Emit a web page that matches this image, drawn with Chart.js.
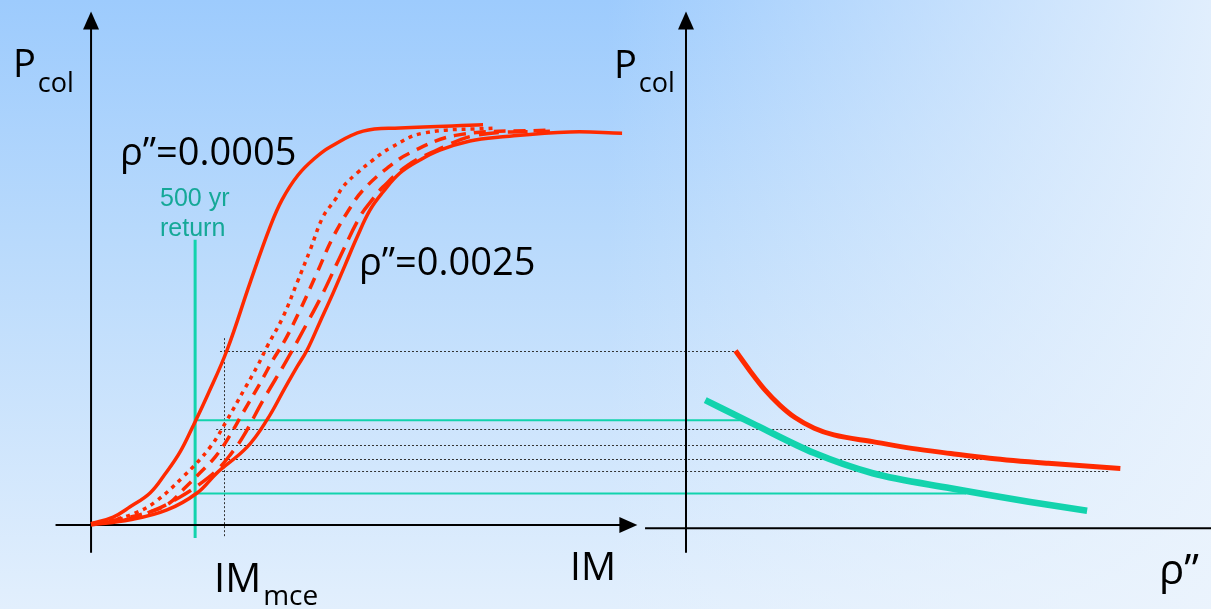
<!DOCTYPE html>
<html>
<head>
<meta charset="utf-8">
<script src="https://cdn.jsdelivr.net/npm/chart.js@4.4.1/dist/chart.umd.min.js"></script>
<style>
html, body { margin: 0; padding: 0; overflow: hidden; }
body {
    width: 1211px; height: 609px;
    background:
        linear-gradient(to right, rgba(236,244,253,0) 50%, rgba(236,244,253,0.85) 100%),
        linear-gradient(to bottom, #9dcbfd 0%, #b9dafc 40%, #e2effd 100%);
}
#wrap { position: relative; width: 1211px; height: 609px; }
</style>
</head>
<body>
<div id="wrap"><canvas id="chart"></canvas></div>
<script>
// --- DATA: left panel, collapse fragility curves P(col) vs IM ---
const im0005 = [0, 0.081, 0.143, 0.216, 0.271, 0.326, 0.373, 0.428, 0.498, 0.582, 0.655, 0.699, 0.758, 0.820, 0.875, 0.996, 1.131, 1.435];
const p0005  = [0.003, 0.020, 0.046, 0.081, 0.129, 0.185, 0.250, 0.331, 0.443, 0.613, 0.754, 0.823, 0.886, 0.929, 0.957, 0.997, 1.005, 1.013];

const imDotted = [0, 0.081, 0.161, 0.234, 0.337, 0.436, 0.498, 0.564, 0.611, 0.644, 0.703, 0.754, 0.802, 0.849, 0.893, 0.922, 0.974, 1.032, 1.094, 1.215, 1.486];
const pDotted  = [0.003, 0.013, 0.030, 0.058, 0.122, 0.197, 0.266, 0.347, 0.405, 0.451, 0.527, 0.613, 0.696, 0.780, 0.823, 0.856, 0.891, 0.924, 0.954, 0.992, 1.005];

const imDash1 = [0, 0.106, 0.198, 0.278, 0.344, 0.399, 0.454, 0.498, 0.556, 0.619, 0.666, 0.710, 0.765, 0.827, 0.886, 0.955, 0.996, 1.076, 1.168, 1.340, 1.680];
const pDash1  = [0.003, 0.015, 0.030, 0.051, 0.094, 0.132, 0.172, 0.215, 0.284, 0.359, 0.418, 0.468, 0.544, 0.638, 0.729, 0.810, 0.848, 0.899, 0.942, 0.987, 1.000];

const imDash2 = [0, 0.124, 0.234, 0.326, 0.399, 0.461, 0.509, 0.556, 0.630, 0.717, 0.791, 0.849, 0.911, 0.984, 1.029, 1.069, 1.160, 1.266, 1.413, 1.680];
const pDash2  = [0.003, 0.013, 0.038, 0.071, 0.104, 0.139, 0.177, 0.223, 0.316, 0.418, 0.511, 0.587, 0.678, 0.780, 0.823, 0.856, 0.911, 0.949, 0.987, 0.997];

const im0025 = [0, 0.143, 0.278, 0.388, 0.461, 0.571, 0.644, 0.710, 0.754, 0.791, 0.838, 0.886, 0.930, 0.974, 1.021, 1.069, 1.131, 1.204, 1.277, 1.387, 1.497, 1.753, 1.944];
const p0025  = [0, 0.013, 0.038, 0.081, 0.132, 0.197, 0.266, 0.347, 0.400, 0.443, 0.514, 0.587, 0.658, 0.729, 0.797, 0.843, 0.891, 0.924, 0.949, 0.972, 0.982, 0.995, 0.992];

// --- DATA: right panel, P(col) vs rho'' ---
const rhoMce = [0.000283, 0.000366, 0.000451, 0.000537, 0.000623, 0.000733, 0.000845, 0.001067, 0.001290, 0.001513, 0.001735, 0.002070, 0.002482];
const pMce   = [0.441, 0.390, 0.342, 0.303, 0.272, 0.245, 0.228, 0.211, 0.194, 0.181, 0.169, 0.156, 0.143];

const rho500 = [0.000110, 0.000399, 0.000733, 0.001067, 0.001513, 0.001958, 0.002292];
const p500   = [0.316, 0.253, 0.182, 0.131, 0.093, 0.059, 0.036];

// reference IMs
const imReturn500 = 0.381;
const imMce = 0.487;

// horizontal guides: dotted at IM_mce, teal at 500 yr return
const guideP       = [0.441, 0.244, 0.203, 0.168, 0.137];
const guideImStart = [0.472, 0.458, 0.472, 0.472, 0.465];
const guideRhoEnd  = [0.000283, 0.000680, 0.001069, 0.001749, 0.002417];
const tealP        = [0.265, 0.080];
const tealRhoEnd   = [0.000349, 0.001600];

// --- STYLE ---
const RED = '#ff2a00';
const TEAL = '#12d3ad';
const TEAL_TEXT = '#15a898';
const FONT = '"Open Sans", "Noto Sans", sans-serif';

function pts(xs, ys) {
    return xs.map((x, i) => ({ x: x, y: ys[i] }));
}

function arrow(ctx, x1, y1, x2, y2) {
    const a = Math.atan2(y2 - y1, x2 - x1);
    const len = 18, half = 8;
    ctx.beginPath();
    ctx.moveTo(x1, y1);
    ctx.lineTo(x2 - Math.cos(a) * len * 0.8, y2 - Math.sin(a) * len * 0.8);
    ctx.stroke();
    ctx.beginPath();
    ctx.moveTo(x2, y2);
    ctx.lineTo(x2 - Math.cos(a) * len - Math.sin(a) * half, y2 - Math.sin(a) * len + Math.cos(a) * half);
    ctx.lineTo(x2 - Math.cos(a) * len + Math.sin(a) * half, y2 - Math.sin(a) * len - Math.cos(a) * half);
    ctx.closePath();
    ctx.fill();
}

// axes, guide lines
const sketchPlugin = {
    id: 'sketch',
    beforeDatasetsDraw(chart) {
        const { ctx, scales } = chart;
        const im = scales.im, rho = scales.rho, p = scales.p;
        ctx.save();

        // dotted guides
        ctx.strokeStyle = '#333';
        ctx.lineWidth = 1;
        ctx.setLineDash([2, 2]);
        guideP.forEach((v, i) => {
            const y = Math.round(p.getPixelForValue(v)) + 0.5;
            ctx.beginPath();
            ctx.moveTo(im.getPixelForValue(guideImStart[i]), y);
            ctx.lineTo(rho.getPixelForValue(guideRhoEnd[i]), y);
            ctx.stroke();
        });
        const xm = Math.round(im.getPixelForValue(imMce)) + 0.5;
        ctx.beginPath();
        ctx.moveTo(xm, p.getPixelForValue(0.473));
        ctx.lineTo(xm, p.getPixelForValue(-0.03));
        ctx.stroke();
        ctx.setLineDash([]);

        // teal guides
        ctx.strokeStyle = TEAL;
        ctx.lineWidth = 2;
        tealP.forEach((v, i) => {
            const y = p.getPixelForValue(v);
            ctx.beginPath();
            ctx.moveTo(im.getPixelForValue(imReturn500), y);
            ctx.lineTo(rho.getPixelForValue(tealRhoEnd[i]), y);
            ctx.stroke();
        });
        ctx.lineWidth = 3;
        const xr = im.getPixelForValue(imReturn500);
        ctx.beginPath();
        ctx.moveTo(xr, p.getPixelForValue(0.722));
        ctx.lineTo(xr, p.getPixelForValue(-0.033));
        ctx.stroke();

        // axes
        ctx.strokeStyle = '#000';
        ctx.fillStyle = '#000';
        ctx.lineWidth = 2;
        const x0 = im.getPixelForValue(0), y0 = p.getPixelForValue(0);
        arrow(ctx, x0, p.getPixelForValue(-0.07), x0, p.getPixelForValue(1.3));
        arrow(ctx, im.getPixelForValue(-0.13), y0, im.getPixelForValue(2.0), y0);
        const xr0 = rho.getPixelForValue(0);
        arrow(ctx, xr0, p.getPixelForValue(-0.07), xr0, p.getPixelForValue(1.3));
        const yr0 = p.getPixelForValue(-0.008);
        ctx.beginPath();
        ctx.moveTo(rho.getPixelForValue(-0.000234), yr0);
        ctx.lineTo(chart.width, yr0);
        ctx.stroke();
        ctx.restore();
    },
    afterDraw(chart) {
        const ctx = chart.ctx;
        ctx.save();
        ctx.textBaseline = 'alphabetic';
        ctx.fillStyle = '#000';
        const sub = (big, small, x, y, fb, fs, dy) => {
            ctx.font = fb + 'px ' + FONT;
            ctx.fillText(big, x, y);
            const w = ctx.measureText(big).width;
            ctx.font = fs + 'px ' + FONT;
            ctx.fillText(small, x + w + 2, y + dy);
        };
        sub('P', 'col', 13, 77, 38, 27, 15);
        sub('P', 'col', 614, 78, 38, 27, 14);
        sub('IM', 'mce', 214, 592, 40, 28, 13);
        ctx.font = '39px ' + FONT;
        ctx.fillText('IM', 570, 580);
        ctx.font = '42px ' + FONT;
        ctx.fillText('ρ”', 1159, 584);
        ctx.font = '38px ' + FONT;
        ctx.fillText('ρ”=0.0005', 120, 165);
        ctx.fillText('ρ”=0.0025', 359, 275);
        ctx.fillStyle = TEAL_TEXT;
        ctx.font = '25px "Liberation Sans", Arial, sans-serif';
        ctx.fillText('500 yr', 160, 206);
        ctx.fillText('return', 160, 236);
        ctx.restore();
    }
};

const curve = (xs, ys, dash) => ({
    data: pts(xs, ys),
    xAxisID: 'im',
    yAxisID: 'p',
    borderColor: RED,
    borderWidth: 3.5,
    borderDash: dash || [],
    borderCapStyle: 'butt',
    pointRadius: 0,
    fill: false,
    tension: 0.4
});

new Chart(document.getElementById('chart'), {
    type: 'line',
    data: {
        datasets: [
            curve(im0005, p0005),
            curve(imDotted, pDotted, [4, 5]),
            curve(imDash1, pDash1, [12, 8]),
            curve(imDash2, pDash2, [20, 9]),
            curve(im0025, p0025),
            {
                data: pts(rhoMce, pMce), xAxisID: 'rho', yAxisID: 'p',
                borderColor: RED, borderWidth: 5, pointRadius: 0, cubicInterpolationMode: 'monotone'
            },
            {
                data: pts(rho500, p500), xAxisID: 'rho', yAxisID: 'p',
                borderColor: TEAL, borderWidth: 6.5, pointRadius: 0, cubicInterpolationMode: 'monotone'
            }
        ]
    },
    options: {
        responsive: true,
        maintainAspectRatio: false,
        animation: false,
        layout: { padding: 0 },
        plugins: { legend: { display: false }, tooltip: { enabled: false } },
        scales: {
            im:  { type: 'linear', axis: 'x', position: 'bottom', display: false, min: -1 / 3, max: 4.1 },
            rho: { type: 'linear', axis: 'x', position: 'top', display: false, min: -0.00392, max: 0.003 },
            p:   { type: 'linear', axis: 'y', display: false, min: -0.2127, max: 1.3291 }
        }
    },
    plugins: [sketchPlugin]
});
</script>
</body>
</html>
